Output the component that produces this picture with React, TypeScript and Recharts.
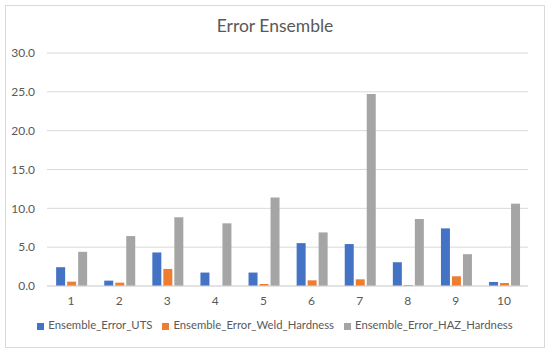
import React from 'react';
import { BarChart, Bar, XAxis, YAxis, CartesianGrid, Legend } from 'recharts';

const categories = ['1', '2', '3', '4', '5', '6', '7', '8', '9', '10'];
const errorUTS = [2.42, 0.69, 4.32, 1.73, 1.73, 5.52, 5.4, 3.06, 7.42, 0.52];
const errorWeld = [0.56, 0.43, 2.2, 0.0, 0.26, 0.73, 0.86, 0.13, 1.25, 0.39];
const errorHAZ = [4.4, 6.43, 8.85, 8.07, 11.39, 6.9, 24.73, 8.63, 4.1, 10.6];
const yTicks = [0, 5, 10, 15, 20, 25, 30];
const title = 'Error Ensemble';
const seriesNames = ['Ensemble_Error_UTS', 'Ensemble_Error_Weld_Hardness', 'Ensemble_Error_HAZ_Hardness'];

const data = categories.map((c, i) => ({
  name: c,
  Ensemble_Error_UTS: errorUTS[i],
  Ensemble_Error_Weld_Hardness: errorWeld[i],
  Ensemble_Error_HAZ_Hardness: errorHAZ[i],
}));

const FONT = 'Lato, "Open Sans", sans-serif';
const TXT = '#595959';

export default function App() {
  return (
    <div
      style={{
        position: 'absolute',
        left: 5,
        top: 5,
        width: 540,
        height: 343,
        border: '1px solid #D9D9D9',
        boxSizing: 'border-box',
        background: '#fff',
        fontFamily: FONT,
      }}
    >
      <div
        style={{
          position: 'absolute',
          left: 0,
          top: 8,
          width: 538,
          textAlign: 'center',
          fontSize: 17.5,
          color: TXT,
          lineHeight: '24px',
        }}
      >
        {title}
      </div>
      <BarChart
        width={538}
        height={341}
        data={data}
        margin={{ top: 47, right: 16, bottom: 2, left: 0 }}
        barCategoryGap="19%"
        barGap={2}
      >
        <CartesianGrid vertical={false} stroke="#D9D9D9" />
        <XAxis
          dataKey="name"
          height={32}
          tickLine={false}
          axisLine={{ stroke: '#D9D9D9' }}
          tickMargin={4}
          tick={{ fill: TXT, fontSize: 12, fontFamily: FONT }}
        />
        <YAxis
          width={41}
          domain={[0, 30]}
          ticks={yTicks}
          interval={0}
          tickFormatter={(v: number) => v.toFixed(1)}
          axisLine={false}
          tickLine={false}
          tickMargin={6}
          tick={{ fill: TXT, fontSize: 12, fontFamily: FONT }}
        />
        <Legend
          verticalAlign="bottom"
          align="center"
          width={538}
          height={27}
          iconType="square"
          iconSize={7}
          itemSorter={(item: any) => seriesNames.indexOf(item.value)}
          wrapperStyle={{ fontSize: 11.3, fontFamily: FONT, whiteSpace: 'nowrap', left: 5 }}
          formatter={(value: string) => <span style={{ color: TXT }}>{value}</span>}
        />
        <Bar dataKey="Ensemble_Error_UTS" fill="#4472C4" isAnimationActive={false} />
        <Bar dataKey="Ensemble_Error_Weld_Hardness" fill="#ED7D31" isAnimationActive={false} />
        <Bar dataKey="Ensemble_Error_HAZ_Hardness" fill="#A5A5A5" isAnimationActive={false} />
      </BarChart>
    </div>
  );
}
